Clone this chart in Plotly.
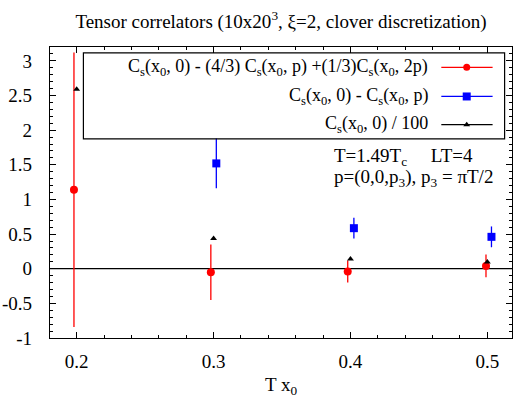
import plotly.graph_objects as go

# ---- data ----
x_red = [0.198, 0.298, 0.398, 0.499]
y_red = [1.14, -0.05, -0.04, 0.04]
e_red = [1.98, 0.40, 0.16, 0.165]

x_blue = [0.302, 0.4025, 0.503]
y_blue = [1.52, 0.585, 0.46]
e_blue = [0.36, 0.15, 0.15]

x_black = [0.2, 0.3, 0.4, 0.5]
y_black = [2.59, 0.436, 0.14, 0.096]

legend_labels = [
    "C<sub>s</sub>(x<sub>0</sub>, 0) - (4/3) C<sub>s</sub>(x<sub>0</sub>, p) +(1/3)C<sub>s</sub>(x<sub>0</sub>, 2p)",
    "C<sub>s</sub>(x<sub>0</sub>, 0) - C<sub>s</sub>(x<sub>0</sub>, p)",
    "C<sub>s</sub>(x<sub>0</sub>, 0) / 100",
]
title_text = "Tensor correlators (10x20<sup>3</sup>, ξ=2, clover discretization)"

FONT = "Liberation Serif"
FS = 19
FS_LEG = 18

fig = go.Figure()

fig.add_trace(go.Scatter(
    x=x_red, y=y_red, mode="markers",
    marker=dict(symbol="circle", size=8, color="red"),
    error_y=dict(type="data", array=e_red, color="red", thickness=1.3, width=0),
    showlegend=False))
fig.add_trace(go.Scatter(
    x=x_blue, y=y_blue, mode="markers",
    marker=dict(symbol="square", size=8, color="blue"),
    error_y=dict(type="data", array=e_blue, color="blue", thickness=1.3, width=0),
    showlegend=False))
fig.add_trace(go.Scatter(
    x=x_black, y=y_black, mode="markers",
    marker=dict(symbol="triangle-up", size=6, color="black"),
    showlegend=False))

# ---- custom legend (symbols on the right, as in gnuplot) ----
rows_y = [0.930, 0.830, 0.733]
sample_colors = ["red", "blue", "black"]
sample_symbols = ["circle", "square", "triangle-up"]
sample_sizes = [7, 8, 6]
for ry, c, s, sz in zip(rows_y, sample_colors, sample_symbols, sample_sizes):
    fig.add_trace(go.Scatter(
        x=[0.847, 0.902, 0.958], y=[ry, ry, ry], xaxis="x2", yaxis="y2",
        mode="lines", line=dict(color=c, width=1.2), showlegend=False,
        hoverinfo="skip"))
    fig.add_trace(go.Scatter(
        x=[0.902], y=[ry], xaxis="x2", yaxis="y2", mode="markers",
        marker=dict(symbol=s, size=sz, color=c), showlegend=False,
        hoverinfo="skip"))

annotations = []
for ry, lab in zip(rows_y, legend_labels):
    annotations.append(dict(
        x=0.822, y=ry, xref="paper", yref="paper", text=lab, showarrow=False,
        xanchor="right", yanchor="middle", font=dict(family=FONT, size=FS_LEG, color="black")))

annotations.append(dict(
    x=0.610, y=0.622, xref="paper", yref="paper",
    text="T=1.49T<sub>c</sub>\u00a0\u00a0\u00a0\u00a0\u00a0LT=4", showarrow=False,
    xanchor="left", yanchor="middle", font=dict(family=FONT, size=FS, color="black")))
annotations.append(dict(
    x=0.610, y=0.550, xref="paper", yref="paper",
    text="p=(0,0,p<sub>3</sub>), p<sub>3</sub> = πT/2", showarrow=False,
    xanchor="left", yanchor="middle", font=dict(family=FONT, size=FS, color="black")))

shapes = [
    dict(type="rect", xref="paper", yref="paper", x0=0.0723, x1=0.984, y0=0.684, y1=0.980,
         line=dict(color="black", width=1.2), fillcolor="rgba(0,0,0,0)", layer="above"),
    dict(type="line", xref="paper", yref="y", x0=0, x1=1, y0=0, y1=0,
         line=dict(color="black", width=1.2), layer="below"),
]

axis_common = dict(
    showgrid=False, zeroline=False, showline=True, linecolor="black", linewidth=1.2,
    mirror="allticks", ticks="inside", ticklen=6, tickcolor="black", tickwidth=1,
    tickfont=dict(family=FONT, size=FS, color="black"),
)

fig.update_layout(
    width=515, height=398,
    margin=dict(l=47, r=2, t=47, b=60),
    paper_bgcolor="white", plot_bgcolor="white",
    title=dict(text=title_text, x=0.5, xref="paper", xanchor="center",
               y=1 - 21.5 / 398, yanchor="middle",
               yref="container", font=dict(family=FONT, size=FS, color="black")),
    xaxis=dict(range=[0.1805, 0.518], tickvals=[0.2, 0.3, 0.4, 0.5],
               ticktext=["0.2", "0.3", "0.4", "0.5"],
               minor=dict(dtick=0.02, tick0=0.0, ticks="inside", ticklen=3, tickcolor="black"),
               title=dict(text="T x<sub>0</sub>", font=dict(family=FONT, size=FS, color="black"),
                          standoff=7),
               ticklabelstandoff=6, **axis_common),
    yaxis=dict(range=[-1, 3.2], tickvals=[-1, -0.5, 0, 0.5, 1, 1.5, 2, 2.5, 3],
               ticktext=["-1", "-0.5", "0", "0.5", "1", "1.5", "2", "2.5", "3"],
               minor=dict(dtick=0.1, tick0=0.0, ticks="inside", ticklen=3, tickcolor="black"),
               ticklabelstandoff=13, **axis_common),
    xaxis2=dict(overlaying="x", range=[0, 1], visible=False),
    yaxis2=dict(overlaying="y", range=[0, 1], visible=False),
    annotations=annotations, shapes=shapes,
    showlegend=False,
)

fig.write_html("out.html")
